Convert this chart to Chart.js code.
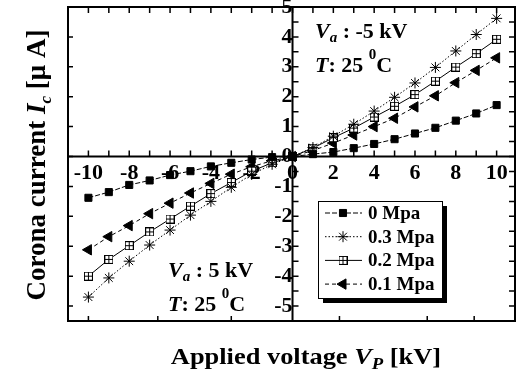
<!DOCTYPE html>
<html><head><meta charset="utf-8">
<script src="https://cdn.jsdelivr.net/npm/chart.js@4/dist/chart.umd.min.js"></script>
<style>html,body{margin:0;padding:0;background:#fff}</style>
</head><body>
<canvas id="c" width="522" height="383"></canvas>
<script>
// ---- data ----
const voltages = [-10,-9,-8,-7,-6,-5,-4,-3,-2,-1,0,1,2,3,4,5,6,7,8,9,10];
const current0MPa  = [-1.38,-1.19,-0.95,-0.80,-0.62,-0.49,-0.33,-0.21,-0.10,-0.02,0,0.08,0.15,0.28,0.42,0.58,0.77,0.96,1.20,1.44,1.72];
const current03MPa = [-4.70,-4.06,-3.50,-2.96,-2.46,-1.96,-1.50,-1.03,-0.60,-0.26,0,0.30,0.68,1.08,1.52,1.98,2.46,2.98,3.53,4.08,4.62];
const current02MPa = [-4.00,-3.44,-2.98,-2.52,-2.09,-1.66,-1.24,-0.87,-0.49,-0.21,0,0.28,0.63,0.95,1.32,1.68,2.07,2.52,2.99,3.44,3.92];
const current01MPa = [-3.12,-2.68,-2.31,-1.91,-1.56,-1.22,-0.90,-0.59,-0.34,-0.14,0,0.20,0.45,0.72,1.00,1.28,1.66,2.03,2.47,2.88,3.30];
const seriesLabels = ['0 Mpa','0.3 Mpa','0.2 Mpa','0.1 Mpa'];
const xTickLabels = [-10,-8,-6,-4,-2,0,2,4,6,8,10];
const yTickLabels = [-5,-4,-3,-2,-1,0,1,2,3,4,5];
const xMinorTicks = [-11,-10,-9,-8,-7,-6,-5,-4,-3,-2,-1,0,1,2,3,4,5,6,7,8,9,10];
const yMinorTicks = [-5.5,-5,-4.5,-4,-3.5,-3,-2.5,-2,-1.5,-1,-0.5,0,0.5,1,1.5,2,2.5,3,3.5,4,4.5,5];
const bottomTicks = [-10,-6.6,-3,2.3,6.6,8.9];
const xRange = [-11, 10.9];
const yRange = [-5.5, 5];

const SERIF = '"Liberation Serif","Times New Roman",serif';

// boxed-plus marker
const boxPlus = document.createElement('canvas');
boxPlus.width = 9; boxPlus.height = 9;
(function(){
  const g = boxPlus.getContext('2d');
  g.fillStyle = '#fff'; g.fillRect(0,0,9,9);
  g.strokeStyle = '#000'; g.lineWidth = 1;
  g.strokeRect(0.5,0.5,8,8);
  g.beginPath(); g.moveTo(4.5,1); g.lineTo(4.5,8); g.moveTo(1,4.5); g.lineTo(8,4.5); g.stroke();
})();

const pts = arr => voltages.map((v,i)=>({x:v, y:arr[i]}));

const datasets = [
  {label: seriesLabels[0], data: pts(current0MPa), borderColor:'#000', borderWidth:1, borderDash:[5,2],
   pointStyle:'rect', pointRadius:5, pointBackgroundColor:'#000', pointBorderColor:'#000', pointBorderWidth:1},
  {label: seriesLabels[1], data: pts(current03MPa), borderColor:'#000', borderWidth:1, borderDash:[1.5,2],
   pointStyle:'star', pointRadius:5.5, pointBackgroundColor:'#000', pointBorderColor:'#000', pointBorderWidth:1},
  {label: seriesLabels[2], data: pts(current02MPa), borderColor:'#000', borderWidth:1, borderDash:[],
   pointStyle: boxPlus, pointRadius:5, pointBackgroundColor:'#fff', pointBorderColor:'#000', pointBorderWidth:1},
  {label: seriesLabels[3], data: pts(current01MPa), borderColor:'#000', borderWidth:1, borderDash:[4,3],
   pointStyle:'triangle', pointRotation:-90, pointRadius:6, pointBackgroundColor:'#000', pointBorderColor:'#000', pointBorderWidth:1}
];

function font(style, size){ return style + ' ' + size + 'px ' + SERIF; }
// runs: [text, style, size, dy]
function measureRuns(ctx, list){
  let w = 0;
  list.forEach(r => { ctx.font = font(r[1], r[2]); w += ctx.measureText(r[0]).width; });
  return w;
}
function drawRuns(ctx, list, x, y){
  let cx = x;
  ctx.textBaseline = 'alphabetic'; ctx.textAlign = 'left'; ctx.fillStyle = '#000';
  list.forEach(r => { ctx.font = font(r[1], r[2]); ctx.fillText(r[0], cx, y + (r[3]||0)); cx += ctx.measureText(r[0]).width; });
}

const framePlugin = {
  id: 'frame',
  beforeDatasetsDraw(chart){
    const {ctx, chartArea:a, scales:{x, y}} = chart;
    const x0 = x.getPixelForValue(0), y0 = y.getPixelForValue(0);
    ctx.save();
    ctx.strokeStyle = '#000';
    ctx.lineWidth = 2;
    ctx.strokeRect(a.left, a.top, a.right - a.left, a.bottom - a.top);
    ctx.beginPath();
    ctx.moveTo(a.left, y0); ctx.lineTo(a.right, y0);
    ctx.moveTo(x0, a.top); ctx.lineTo(x0, a.bottom);
    ctx.stroke();
    ctx.lineWidth = 1.5;
    ctx.beginPath();
    xMinorTicks.forEach(v => {
      const p = x.getPixelForValue(v);
      ctx.moveTo(p, a.top); ctx.lineTo(p, a.top + 6);
      ctx.moveTo(p, y0); ctx.lineTo(p, y0 - 6);
    });
    bottomTicks.forEach(v => {
      const p = x.getPixelForValue(v);
      ctx.moveTo(p, a.bottom); ctx.lineTo(p, a.bottom - 5);
    });
    yMinorTicks.forEach(v => {
      const p = y.getPixelForValue(v);
      ctx.moveTo(a.right, p); ctx.lineTo(a.right - 6, p);
      ctx.moveTo(x0, p); ctx.lineTo(x0 + 6, p);
    });
    yTickLabels.forEach(v => {
      const p = y.getPixelForValue(v);
      ctx.moveTo(a.left, p); ctx.lineTo(a.left + 5, p);
    });
    ctx.stroke();
    ctx.restore();
  },
  afterDraw(chart){
    const {ctx} = chart;
    ctx.save();
    // legend box
    const bx = 318, by = 201, bw = 124, bh = 97;
    ctx.fillStyle = '#000';
    ctx.fillRect(bx + 5, by + 5, bw, bh);
    ctx.fillStyle = '#fff';
    ctx.fillRect(bx, by, bw, bh);
    ctx.strokeStyle = '#000'; ctx.lineWidth = 1;
    ctx.strokeRect(bx + 0.5, by + 0.5, bw, bh);
    chart.data.datasets.forEach((ds, i) => {
      const ry = 213 + i * 23.7;
      ctx.save();
      ctx.strokeStyle = '#000'; ctx.lineWidth = 1;
      ctx.setLineDash(ds.borderDash || []);
      ctx.beginPath(); ctx.moveTo(325, ry); ctx.lineTo(362, ry); ctx.stroke();
      ctx.setLineDash([]);
      ctx.fillStyle = ds.pointBackgroundColor; ctx.strokeStyle = ds.pointBorderColor;
      ctx.lineWidth = ds.pointBorderWidth;
      Chart.helpers.drawPoint(ctx, {pointStyle: ds.pointStyle, rotation: ds.pointRotation || 0,
        radius: ds.pointRadius, borderWidth: ds.pointBorderWidth}, 343, ry);
      ctx.restore();
      ctx.fillStyle = '#000';
      ctx.font = font('bold', 19);
      ctx.textBaseline = 'middle'; ctx.textAlign = 'left';
      ctx.fillText(ds.label, 368, ry + 1);
    });
    // annotations
    const ann = (x, y, vText) => {
      drawRuns(ctx, [['V','italic bold',22,0],['a','italic bold',15,4],[vText,'bold',22,0]], x, y);
      drawRuns(ctx, [['T','italic bold',22,0],[': 25 ','bold',22,0],['0','bold',15,-13],['C','bold',22,0]], x, y + 34);
    };
    ann(315, 38, ' : -5 kV');
    ann(168, 277, ' : 5 kV');
    // x title
    const xt = [['Applied voltage ','bold',24,0],['V','italic bold',24,0],['P','italic bold',17,5],[' [kV]','bold',24,0]];
    const sx = 1.1;
    const xw = measureRuns(ctx, xt) * sx;
    ctx.save();
    ctx.translate(306 - xw/2, 364);
    ctx.scale(sx, 1);
    drawRuns(ctx, xt, 0, 0);
    ctx.restore();
    // y title
    const yt = [['Corona current ','bold',27,0],['I','italic bold',27,0],['c','italic bold',17,6],[' [\u03bc A]','bold',27,0]];
    const yw = measureRuns(ctx, yt);
    ctx.save();
    ctx.translate(45, 165);
    ctx.rotate(-Math.PI/2);
    drawRuns(ctx, yt, -yw/2, 0);
    ctx.restore();
    ctx.restore();
  }
};

new Chart(document.getElementById('c'), {
  type: 'line',
  data: { datasets },
  options: {
    responsive: false,
    animation: false,
    devicePixelRatio: 1,
    layout: { padding: { left: 68, right: 1, top: 5, bottom: 62 } },
    plugins: { legend: { display: false }, tooltip: { enabled: false } },
    elements: { line: { tension: 0, fill: false } },
    scales: {
      x: {
        type: 'linear', min: xRange[0], max: xRange[1],
        position: { y: 0 },
        grid: { display: false, drawTicks: false },
        border: { display: false },
        afterBuildTicks: s => { s.ticks = xTickLabels.map(v => ({value: v})); },
        afterFit: s => { s.height = 0; s.paddingLeft = 0; s.paddingRight = 0; s.paddingTop = 0; s.paddingBottom = 0; },
        ticks: { autoSkip: false, maxRotation: 0, padding: 4, color: '#000',
          font: { family: SERIF, size: 22, weight: 'bold' }, callback: v => String(v) }
      },
      y: {
        type: 'linear', min: yRange[0], max: yRange[1],
        position: { x: 0 },
        grid: { display: false, drawTicks: false },
        border: { display: false },
        afterBuildTicks: s => { s.ticks = yTickLabels.map(v => ({value: v})); },
        afterFit: s => { s.width = 0; s.paddingLeft = 0; s.paddingRight = 0; s.paddingTop = 0; s.paddingBottom = 0; },
        ticks: { autoSkip: false, padding: 8, color: '#000',
          font: { family: SERIF, size: 22, weight: 'bold' }, callback: v => String(v) }
      }
    }
  },
  plugins: [framePlugin]
});
</script>
</body></html>
